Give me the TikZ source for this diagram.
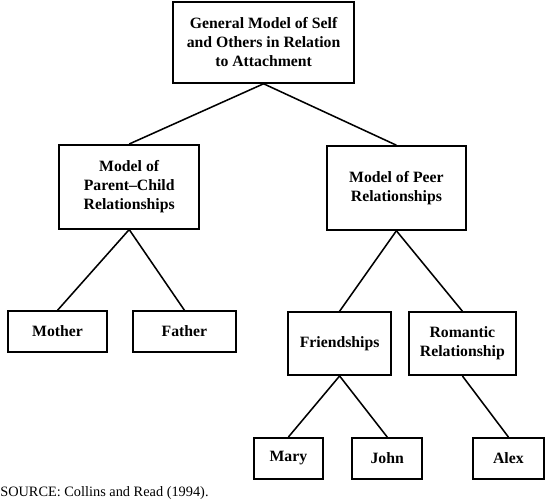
\documentclass[tikz,border=0pt]{standalone}
\usepackage{fontspec}
\setmainfont{Liberation Serif}

\begin{document}
\begin{tikzpicture}[
    modelbox/.style={shape=rectangle,draw,line width=1.1pt,align=center,inner sep=2pt,
        font=\fontsize{11.2}{13.6}\selectfont\bfseries},
    link/.style={line width=1.1pt}]
    \useasboundingbox (0,0) rectangle (13.625,12.5);
    \node[modelbox,minimum width=4.53cm,minimum height=2.03cm] (general)    at (6.59,11.44) {General Model of Self\\and Others in Relation\\to Attachment};
    \node[modelbox,minimum width=3.5cm, minimum height=2.1cm]  (parent)     at (3.23,7.83)  {Model of\\Parent--Child\\Relationships};
    \node[modelbox,minimum width=3.48cm,minimum height=2.1cm]  (peer)       at (9.91,7.8)   {Model of Peer\\Relationships};
    \node[modelbox,minimum width=2.48cm,minimum height=1.03cm] (mother)     at (1.44,4.21)  {Mother};
    \node[modelbox,minimum width=2.58cm,minimum height=1.03cm] (father)     at (4.61,4.21)  {Father};
    \node[modelbox,minimum width=2.58cm,minimum height=1.58cm] (friendship) at (8.49,3.91)  {Friendships};
    \node[modelbox,minimum width=2.68cm,minimum height=1.58cm] (romantic)   at (11.56,3.91) {Romantic\\Relationship};
    \node[modelbox,minimum width=1.73cm,minimum height=1.03cm] (mary)       at (7.21,1.04)  {Mary};
    \node[modelbox,minimum width=1.75cm,minimum height=1.03cm] (john)       at (9.68,1.04)  {John};
    \node[modelbox,minimum width=1.78cm,minimum height=1.03cm] (alex)       at (12.71,1.04) {Alex};
    \node[anchor=west,inner sep=0pt,font=\fontsize{10.2}{12}\selectfont] (source) at (0,0.18) {SOURCE: Collins and Read (1994).};
    % connectors
    \draw[link] (general.south) -- (parent.north);
    \draw[link] (general.south) -- (peer.north);
    \draw[link] (parent.south) -- (mother.north);
    \draw[link] (parent.south) -- (father.north);
    \draw[link] (peer.south) -- (friendship.north);
    \draw[link] (peer.south) -- (romantic.north);
    \draw[link] (friendship.south) -- (mary.north);
    \draw[link] (friendship.south) -- (john.north);
    \draw[link] (romantic.south) -- (alex.north);
\end{tikzpicture}
\end{document}
